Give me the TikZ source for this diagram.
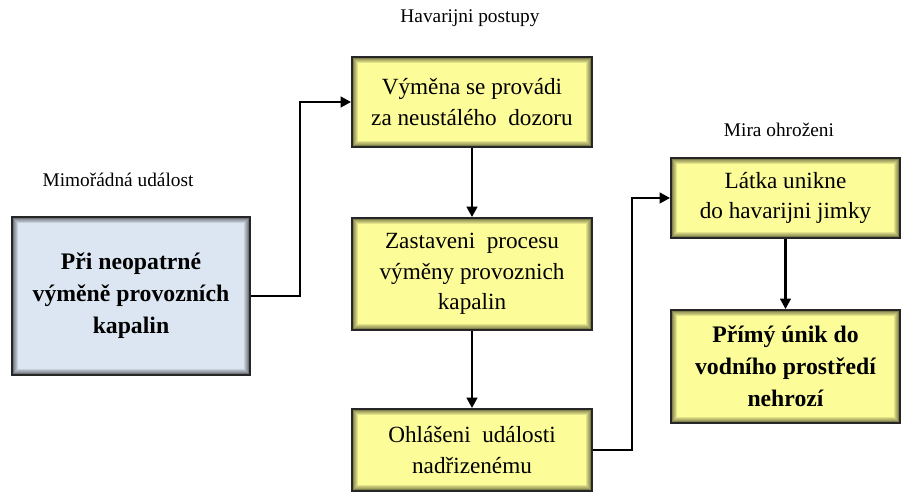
\documentclass[tikz,border=0pt]{standalone}
\usepackage{fontspec}
\setmainfont{Liberation Serif}
\usepackage{tikz}
\usetikzlibrary{positioning,arrows.meta,calc}

\definecolor{boxyellow}{RGB}{252,252,152}
\definecolor{boxblue}{RGB}{220,230,242}

\tikzset{
  glow/.style={path picture={
    \foreach \w in {1,...,7}
      \draw[black, opacity=0.1, line width=\w*0.9pt]
        (path picture bounding box.south west) rectangle (path picture bounding box.north east);}},
  stepbox/.style={draw=black!85, line width=1pt, fill=boxyellow, glow, align=center,
    inner sep=0pt, font=\fontsize{13.2}{17.3}\selectfont},
  eventbox/.style={stepbox, fill=boxblue, font=\fontsize{13.5}{18.3}\selectfont\bfseries},
  heading/.style={font=\fontsize{11}{13}\selectfont},
  flow/.style={line width=1.6pt, -{Triangle[length=6pt,width=6pt]}}
}

\begin{document}
\begin{tikzpicture}[x=0.02cm, y=0.02cm]
\useasboundingbox (0,0) rectangle (904,492);
% left: event
\node[heading] (hEv) at (118,312) {Mimořádná událost};
\node[eventbox, minimum width=238*0.02cm, minimum height=158*0.02cm] (ev) at (131,196)
  {Při neopatrné\\výměně provozních\\kapalin};
% middle: procedures
\node[heading] (hPost) at (470,474) {Havarijni postupy};
\node[stepbox, minimum width=240*0.02cm, minimum height=90*0.02cm] (vymena) at (472,390)
  {Výměna se provádi\\za neustálého\ \ dozoru};
\node[stepbox, minimum width=240*0.02cm, minimum height=112*0.02cm] (zastav) at (472,218)
  {Zastaveni\ \ procesu\\výměny provoznich\\kapalin};
\node[stepbox, minimum width=240*0.02cm, minimum height=82*0.02cm] (ohlas) at (472,42)
  {Ohlášeni\ \ události\\nadřizenému};
% right: threat level
\node[heading] (hMira) at (779,362) {Mira ohroženi};
\node[stepbox, minimum width=229*0.02cm, minimum height=80*0.02cm] (unik) at (785.5,294)
  {Látka unikne\\do havarijni jimky};
\node[stepbox, font=\fontsize{13.5}{18.3}\selectfont\bfseries,
  minimum width=229*0.02cm, minimum height=113*0.02cm] (primy) at (785.5,125.5)
  {Přímý únik do\\vodního prostředí\\nehrozí};
\coordinate (k1) at (300,0);
\coordinate (k2) at (632,0);
\draw[flow] (ev.east) -- (ev.east -| k1) |- (vymena.west);
\draw[flow] (vymena) -- (zastav);
\draw[flow] (zastav) -- (ohlas);
\draw[flow] (ohlas.east) -- (ohlas.east -| k2) |- (unik.west);
\draw[flow] (unik) -- (primy);
\end{tikzpicture}
\end{document}
